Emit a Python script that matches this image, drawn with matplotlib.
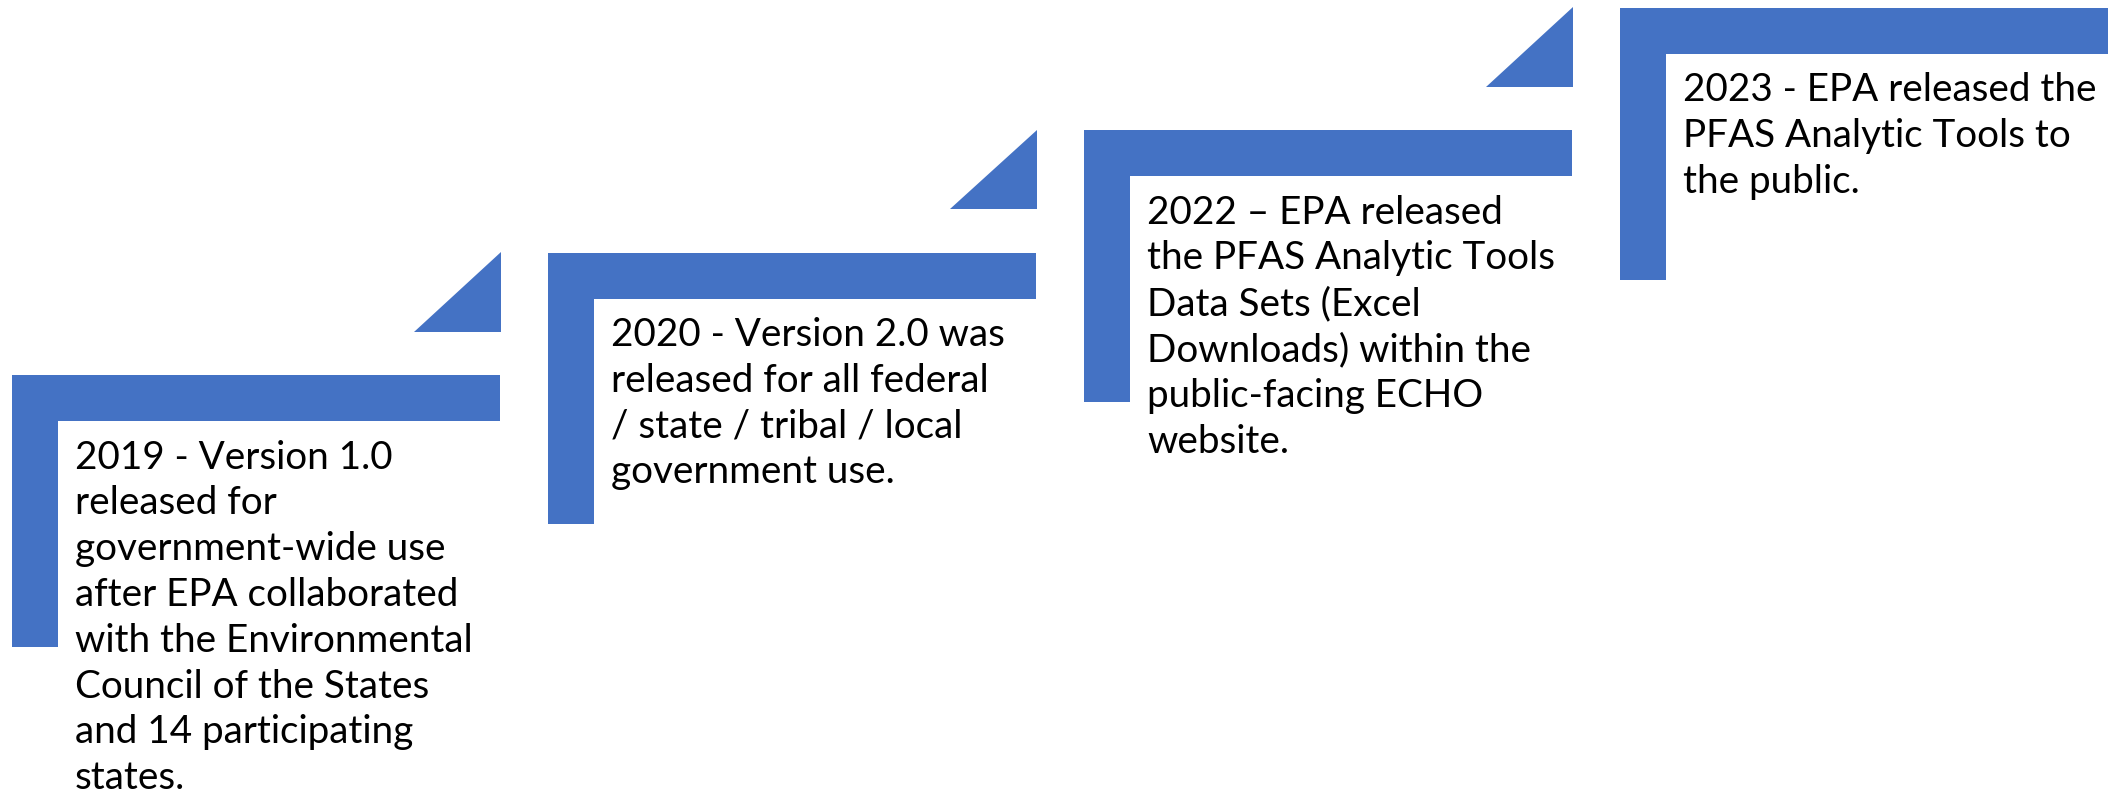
import matplotlib
matplotlib.use("Agg")
import matplotlib.pyplot as plt
from matplotlib.patches import Polygon

# ---- data ----
step_texts = [
    ["2019 - Version 1.0", "released for", "government-wide use",
     "after EPA collaborated", "with the Environmental",
     "Council of the States", "and 14 participating", "states."],
    ["2020 - Version 2.0 was", "released for all federal",
     "/ state / tribal / local", "government use."],
    ["2022 \u2013 EPA released", "the PFAS Analytic Tools",
     "Data Sets (Excel", "Downloads) within the",
     "public-facing ECHO", "website."],
    ["2023 - EPA released the", "PFAS Analytic Tools to", "the public."],
]
step_left = [12, 548, 1084.3, 1620.3]
step_top = [375.3, 252.7, 130.3, 8.0]
has_arrow = [True, True, True, False]

# reference line widths (px) used for font-size fitting
fit_lines = ["with the Environmental", "2023 - EPA released the",
             "government-wide use", "2019 - Version 1.0"]
fit_widths = [403.0, 407.0, 375.0, 310.0]

# ---- style / geometry ----
W, H = 2118, 794
BLUE = "#4472C4"
bar_len = 488.0
thick = 46.0
vert_len = 271.5
tri_w, tri_h = 86.5, 79.5
tri_gap = 43.6
text_dx = 63.0
first_base = 93.3
line_pitch = 45.8
FONT = "Lato"

fig = plt.figure(figsize=(W / 100, H / 100), dpi=100)
ax = fig.add_axes([0, 0, 1, 1])
ax.set_xlim(0, W)
ax.set_ylim(H, 0)
ax.axis("off")

for x0, y0, arrow in zip(step_left, step_top, has_arrow):
    L = [(x0, y0), (x0 + bar_len, y0), (x0 + bar_len, y0 + thick),
         (x0 + thick, y0 + thick), (x0 + thick, y0 + vert_len),
         (x0, y0 + vert_len)]
    ax.add_patch(Polygon(L, closed=True, facecolor=BLUE, edgecolor="none"))
    if arrow:
        xr = x0 + bar_len + 0.5
        yb = y0 - tri_gap
        tri = [(xr - tri_w, yb), (xr, yb), (xr, yb - tri_h)]
        ax.add_patch(Polygon(tri, closed=True, facecolor=BLUE, edgecolor="none"))

# fit font size so that the reference lines match target widths
fig.canvas.draw()
renderer = fig.canvas.get_renderer()
total = 0.0
for s in fit_lines:
    probe = ax.text(0, 0, s, fontsize=30, family=FONT)
    total += probe.get_window_extent(renderer).width
    probe.remove()
fs = 30 * sum(fit_widths) / total

for x0, y0, lines in zip(step_left, step_top, step_texts):
    for i, line in enumerate(lines):
        ax.text(x0 + text_dx, y0 + first_base + i * line_pitch, line,
                fontsize=fs, family=FONT, color="black",
                ha="left", va="baseline")

fig.savefig("out.png", dpi=100, facecolor="white")
